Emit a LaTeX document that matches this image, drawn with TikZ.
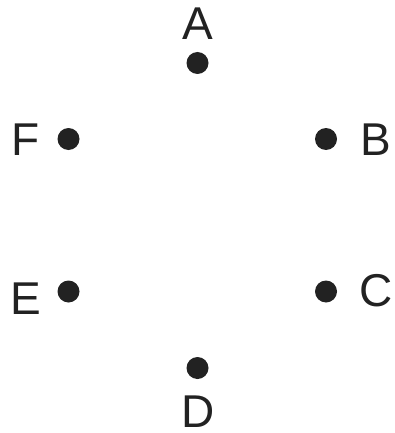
\documentclass[tikz,border=0pt]{standalone}
\usepackage{fontspec}
\setmainfont{Liberation Sans}
\definecolor{ink}{HTML}{222222}
\begin{document}
\begin{tikzpicture}[x=1pt,y=-1pt,
  dot/.style={circle,fill=ink,inner sep=0pt,minimum size=22pt},
  lbl/.style={anchor=base,inner sep=0pt,text=ink,text depth=0pt,font=\fontsize{46}{50}\selectfont}]
\useasboundingbox (0,0) rectangle (395,433);
\node[dot] (a) at (197.5,63) {};
\node[dot] (b) at (326,139) {};
\node[dot] (c) at (326,291.5) {};
\node[dot] (d) at (197.5,368) {};
\node[dot] (e) at (68.5,291.5) {};
\node[dot] (f) at (68.5,139) {};
\node[lbl] (la) at (197.5,40) {A};
\node[lbl] (lb) at (376,155) {B};
\node[lbl] (lc) at (376.5,306) {C};
\node[lbl] (ld) at (198.5,427) {D};
\node[lbl] (le) at (25.5,314) {E};
\node[lbl] (lf) at (25.5,155) {F};
\end{tikzpicture}
\end{document}
